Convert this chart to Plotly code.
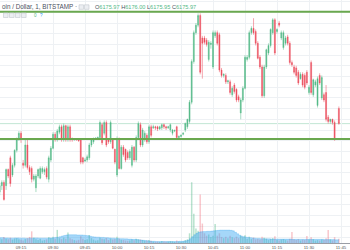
import plotly.graph_objects as go
import pandas as pd

# ---- data (1-minute BTC/USD, Bitstamp) ----
start_time = "2018-07-02 09:05"
n_bars = 160

opens = [6112, 6118, 6121, 6118, 6133, 6144, 6128, 6137, 6151, 6161,
         6167, 6139, 6137, 6156, 6135, 6134, 6124, 6116, 6127, 6125,
         6131, 6131, 6134, 6124, 6142, 6153, 6166, 6161, 6168, 6173,
         6161, 6174, 6161, 6173, 6162, 6161, 6161.5, 6161, 6161, 6144,
         6141, 6142, 6144, 6156, 6159, 6162, 6162, 6163, 6175, 6167,
         6177, 6161, 6159, 6161, 6152, 6128, 6162, 6134, 6154, 6152,
         6149, 6144, 6137, 6154, 6142, 6163, 6175, 6156, 6161, 6165,
         6159, 6173, 6172, 6173, 6173, 6171, 6172, 6175, 6173, 6172,
         6170, 6167, 6169, 6173, 6163, 6164, 6166, 6170, 6173, 6178,
         6196, 6234, 6261, 6268, 6277, 6256, 6256, 6254, 6236, 6250,
         6229, 6258, 6261, 6259, 6226, 6221, 6221, 6215, 6215, 6203,
         6212, 6208, 6201, 6186, 6198, 6209, 6236, 6238, 6261, 6265,
         6262, 6251, 6238, 6229, 6202, 6229, 6242, 6249, 6261, 6273,
         6262, 6270, 6256, 6247, 6251, 6257, 6251, 6233, 6229, 6228,
         6224, 6218, 6222, 6221, 6224, 6205, 6233, 6203, 6212, 6193,
         6221, 6200, 6203, 6205, 6182, 6178, 6180, 6177, None, 6190]

highs = [6120, 6123, 6123, 6134, 6134, 6146, 6139, 6152, 6163, 6169,
         6169, 6142, 6161, 6162, 6137, 6136, 6129, 6129, 6134, 6136,
         6136, 6135, 6136, 6146, 6155, 6168, 6168, 6171, 6175, 6175,
         6176, 6175, 6175, 6175, 6163, 6162, 6162, 6161.5, 6161.5, 6145,
         6144, 6147, 6158, 6162, 6163, 6163, 6164, 6179, 6177, 6179,
         6179, 6161.5, 6179, 6162, 6152.5, 6164, 6163, 6156, 6156, 6152.5,
         6151, 6152, 6156, 6155, 6165, 6178, 6177, 6172, 6169, 6167,
         6175, 6175, 6175, 6174, 6174, 6174, 6176, 6176, 6174, 6174,
         6176, 6171, 6170.5, 6174, 6165, 6166, 6168, 6177, 6180.5, 6198,
         6236, 6263, 6270, 6279, 6279, 6258, 6258, 6256, 6254, 6253,
         6263, 6263, 6263, 6261, 6228, 6223, 6223, 6217, 6217, 6211,
         6214, 6209, 6203, 6200, 6211, 6240, 6240, 6263, 6267, 6274.5,
         6264, 6253, 6240, 6231, 6231, 6246, 6251, 6265, 6274.5, 6274.5,
         6265, 6272, 6263, 6263, 6258, 6259, 6253, 6235, 6231, 6230,
         6226, 6224, 6224, 6223, 6226, 6212, 6235, 6218, 6217, 6220,
         6223, 6221, 6205, 6212, 6184, 6180.5, 6180.5, 6179, None, 6192]

lows = [6109, 6114, 6104, 6114, 6125, 6117, 6126, 6135, 6149, 6160,
        6158, 6134, 6135, 6133, 6128, 6121, 6122, 6112, 6125, 6124,
        6129, 6128, 6124, 6121, 6140, 6152, 6159, 6159, 6166, 6159,
        6159, 6159, 6159, 6159, 6159, 6160, 6160, 6159, 6138, 6138,
        6140, 6140, 6142, 6154, 6157, 6161, 6161, 6161, 6156, 6165,
        6154, 6157, 6157, 6152, 6138, 6126, 6133, 6133, 6145, 6140,
        6142, 6142, 6135, 6140, 6140, 6161, 6154, 6154, 6159, 6157,
        6157, 6163, 6171, 6170, 6169, 6170, 6170, 6171, 6170, 6171,
        6168, 6165, 6168, 6161, 6162, 6163, 6165, 6168, 6171, 6176,
        6194, 6232, 6259, 6266, 6222, 6218, 6250, 6248, 6234, 6246,
        6227, 6256, 6249, 6224, 6219, 6219, 6213, 6213, 6203, 6201,
        6204, 6196, 6196, 6180, 6196, 6208, 6234, 6236, 6259, 6259,
        6249, 6236, 6227, 6200, 6200, 6227, 6240, 6247, 6259, 6240,
        6260, 6266, 6254, 6245, 6249, 6249, 6231, 6229, 6222, 6219,
        6212, 6217, 6210, 6208, 6212, 6203, 6203, 6201, 6210, 6191,
        6212, 6198, 6196, 6178, 6176, 6176, 6175, 6160, None, 6175]

closes = [6118, 6121, 6105, 6133, 6127, 6120, 6137, 6151, 6161, 6167,
          6161, 6137, 6156, 6135, 6131, 6124, 6127, 6127, 6133, 6134,
          6134, 6133, 6126, 6144, 6153, 6166, 6161, 6169, 6173, 6161,
          6174, 6161, 6173, 6161, 6161, 6161.5, 6161, 6160, 6140, 6140,
          6142, 6145, 6156, 6161, 6161.5, 6162.5, 6163, 6177, 6158, 6177,
          6156, 6159, 6177, 6153, 6140, 6162, 6134, 6154, 6147, 6142,
          6144, 6150, 6154, 6142, 6163, 6176, 6156, 6170, 6167, 6159,
          6173, 6165, 6173, 6172, 6171, 6173, 6175, 6173, 6172, 6173,
          6175, 6170, 6169.5, 6163, 6164, 6165, 6167, 6176, 6180, 6196,
          6234, 6261, 6268, 6277, 6224, 6251, 6252, 6250, 6252, 6251,
          6261, 6261, 6251, 6226, 6221, 6222, 6215, 6216, 6205, 6209,
          6206, 6198, 6198, 6198, 6209, 6238, 6238, 6261, 6265, 6261,
          6251, 6237, 6229, 6202, 6229, 6245, 6249, 6264, 6273, 6242,
          6264, 6268, 6261, 6261, 6256, 6251, 6233, 6231, 6224, 6221,
          6214, 6222, 6212, 6210, 6214, 6210, 6205, 6217, 6215, 6218,
          6214, 6219, 6198, 6180, 6178, 6180, 6177, 6161, None, 6175.97]

volumes = [2.0, 1.5, 2.5, 1.8, 1.5, 2.2, 1.4, 1.8, 2.0, 1.5,
           1.3, 1.0, 1.6, 2.0, 2.5, 4.8, 2.2, 1.5, 1.2, 1.8,
           1.0, 1.2, 1.5, 2.4, 2.0, 2.6, 1.8, 5.4, 2.0, 1.6,
           2.2, 1.8, 4.3, 2.0, 1.5, 1.2, 1.0, 1.3, 2.8, 1.8,
           1.2, 1.5, 3.3, 2.0, 1.4, 1.0, 1.1, 2.2, 1.8, 1.5,
           2.0, 1.2, 1.8, 1.4, 1.6, 2.6, 1.8, 1.3, 1.2, 1.0,
           0.9, 1.0, 1.4, 1.1, 1.8, 1.5, 1.4, 1.2, 0.9, 1.0,
           1.2, 0.9, 0.6, 0.5, 0.6, 0.5, 0.8, 0.6, 0.5, 0.6,
           0.8, 0.7, 0.5, 1.0, 0.6, 0.5, 0.6, 1.2, 1.5, 4.0,
           25.0, 12.0, 6.0, 5.0, 20.0, 8.0, 4.0, 3.0, 3.5, 2.5,
           3.0, 7.8, 3.0, 4.0, 2.5, 2.0, 2.6, 2.0, 3.0, 2.4,
           2.0, 2.6, 2.0, 3.0, 2.4, 3.2, 1.8, 2.6, 1.6, 2.2,
           1.5, 1.8, 1.4, 2.6, 2.2, 1.8, 1.2, 1.6, 2.0, 2.8,
           1.2, 1.0, 1.4, 1.6, 1.2, 1.0, 1.8, 4.5, 1.5, 1.2,
           1.6, 1.0, 1.4, 1.2, 2.9, 1.4, 2.4, 1.6, 1.0, 1.2,
           1.0, 1.4, 1.2, 2.0, 5.4, 1.5, 1.0, 2.4, None, 1.8]

volume_ma = [2.2, 2.2, 2.1, 2.1, 2.0, 2.0, 2.0, 2.1, 2.1, 2.0,
             2.0, 2.0, 1.9, 1.9, 2.0, 2.0, 2.1, 2.1, 2.0, 2.0,
             2.0, 2.0, 2.0, 2.1, 2.1, 2.2, 2.3, 2.4,
             2.6, 2.9, 3.1, 3.3, 3.4, 3.4, 3.4, 3.4, 3.3, 3.3, 3.3, 3.2, 3.1, 3.0,
             2.8, 2.6, 2.5, 2.4, 2.4, 2.3, 2.3, 2.2, 2.2, 2.1, 2.0, 2.0, 1.9, 1.9,
             1.8, 1.8, 1.7, 1.7, 1.6, 1.6, 1.5, 1.5, 1.4, 1.3, 1.2, 1.1, 1.0, 0.9,
             0.8, 0.7, 0.7, 0.6, 0.6, 0.6, 0.6, 0.6, 0.6, 0.6, 0.6, 0.6, 0.6, 0.6,
             0.7, 0.7, 0.8, 0.9,
             1.2, 1.8, 2.6, 3.4, 4.0, 4.4, 4.6, 4.7,
             4.7, 4.8, 4.8, 4.9, 5.0, 5.1, 5.2, 5.3, 5.3, 5.3, 5.3, 5.3, 5.2, 5.0,
             4.4, 3.8, 3.2, 2.8, 2.6,
             2.4, 2.3, 2.2, 2.1, 2.0, 1.9, 1.9, 1.8, 1.8, 1.7,
             1.7, 1.7, 1.6, 1.6, 1.6, 1.6, 1.6, 1.6, 1.6, 1.6,
             1.6, 1.6, 1.5, 1.5, 1.5, 1.5, 1.5, 1.5, 1.5, 1.5,
             1.5, 1.5, 1.5, 1.5, 1.5, 1.5, 1.5, 1.4, 1.4, 1.4,
             1.4, 1.4, 1.3, 1.3, 1.2]

support_level = 6161.5
resistance_level = 6280.5
last_price = 6175.97

header_title = "oin / Dollar, 1, BITSTAMP \u00b7"
ohlc_labels = ["O", "H", "L", "C"]
ohlc_values = ["6175.97", "6176.00", "6175.95", "6175.97"]

# ---- styling ----
UP = "#53b987"
DOWN = "#eb4d5c"
UP_VOL = "rgba(83,185,135,0.42)"
DOWN_VOL = "rgba(235,77,92,0.32)"
GRID = "#eef1f4"
TEXT = "#4c525e"
W, H = 350, 250
MB = 7
PLOT_H = H - MB

times = pd.date_range(start_time, periods=n_bars, freq="1min")

vol_colors = []
for o, c in zip(opens, closes):
    if o is None or c is None:
        vol_colors.append(UP_VOL)
    else:
        vol_colors.append(UP_VOL if c >= o else DOWN_VOL)

fig = go.Figure()

fig.add_trace(go.Candlestick(
    x=times, open=opens, high=highs, low=lows, close=closes,
    increasing=dict(fillcolor=UP, line=dict(color=UP, width=0.5)),
    decreasing=dict(fillcolor=DOWN, line=dict(color=DOWN, width=0.5)),
    whiskerwidth=0, hoverinfo="skip", showlegend=False,
))

fig.add_trace(go.Scatter(
    x=times, y=volume_ma, yaxis="y2", mode="lines",
    line=dict(color="rgba(41,160,240,0.5)", width=0.5, shape="hv"),
    fill="tozeroy", fillcolor="rgba(41,160,240,0.42)",
    hoverinfo="skip", showlegend=False,
))

fig.add_trace(go.Bar(
    x=times, y=volumes, yaxis="y2", marker=dict(color=vol_colors, line=dict(width=0)),
    hoverinfo="skip", showlegend=False,
))

def px_x(px):
    return px / W

def px_y(px):
    return (PLOT_H - px) / PLOT_H

shapes = []
for lvl in (resistance_level, support_level):
    shapes.append(dict(type="line", xref="paper", yref="y", x0=0, x1=1, y0=lvl, y1=lvl,
                       line=dict(color="#6aa84f", width=2), layer="above"))
shapes.append(dict(type="line", xref="paper", yref="y", x0=0, x1=1, y0=last_price, y1=last_price,
                   line=dict(color="rgba(83,185,135,0.35)", width=1), layer="below"))

# small toolbar icon boxes
for x0 in (79.0, 84.5):
    shapes.append(dict(type="rect", xref="paper", yref="paper",
                       x0=px_x(x0), x1=px_x(x0 + 4.5), y0=px_y(9.3), y1=px_y(4.8),
                       line=dict(color="#c3c7cf", width=0.6), fillcolor="#eceef2", layer="above"))
for x0 in (3.5, 9.5, 15.5, 21.5):
    shapes.append(dict(type="rect", xref="paper", yref="paper",
                       x0=px_x(x0), x1=px_x(x0 + 4.6), y0=px_y(17.5), y1=px_y(13.0),
                       line=dict(color="#c3c7cf", width=0.6), fillcolor="#eceef2", layer="above"))

ohlc_text = " ".join(
    f"{lab}<span style='color:{UP}'>{val}</span>" for lab, val in zip(ohlc_labels, ohlc_values)
)

font_family = "Liberation Sans, Arial, sans-serif"
annotations = [
    dict(xref="paper", yref="paper", x=px_x(0), y=px_y(6.8), xanchor="left", yanchor="middle",
         text=header_title, showarrow=False, font=dict(size=6.3, color=TEXT, family=font_family)),
    dict(xref="paper", yref="paper", x=px_x(92.5), y=px_y(6.8), xanchor="left", yanchor="middle",
         text=ohlc_text, showarrow=False, font=dict(size=5.6, color=TEXT, family=font_family)),
    dict(xref="paper", yref="paper", x=px_x(31.5), y=px_y(15.3), xanchor="left", yanchor="middle",
         text="0", showarrow=False, font=dict(size=4.5, color=UP, family=font_family)),
    dict(xref="paper", yref="paper", x=px_x(37.5), y=px_y(15.3), xanchor="left", yanchor="middle",
         text="?", showarrow=False, font=dict(size=4.5, color="#2196f3", family=font_family)),
]

fig.update_layout(
    width=W, height=H,
    margin=dict(l=0, r=0, t=0, b=MB, pad=0, autoexpand=False),
    paper_bgcolor="white", plot_bgcolor="white",
    showlegend=False,
    boxgap=0.35, bargap=0.3,
    shapes=shapes, annotations=annotations,
    xaxis=dict(
        type="date",
        range=["2018-07-02 09:05:09", "2018-07-02 11:49:13"],
        rangeslider=dict(visible=False),
        tickformat="%H:%M", tick0="2018-07-02 09:00", dtick=900000,
        showgrid=True, gridcolor=GRID, gridwidth=1,
        showline=True, linecolor="#9a9ea6", linewidth=1,
        ticks="", ticklen=0,
        tickfont=dict(size=4.3, color="#555", family=font_family),
        zeroline=False, automargin=False,
    ),
    yaxis=dict(
        range=[6064.4, 6291.5], dtick=10, tick0=6000,
        showgrid=True, gridcolor=GRID, gridwidth=1,
        showticklabels=False, zeroline=False, showline=False, automargin=False,
    ),
    yaxis2=dict(overlaying="y", range=[0, 100], visible=False, showgrid=False),
)

fig.write_html("out.html")
